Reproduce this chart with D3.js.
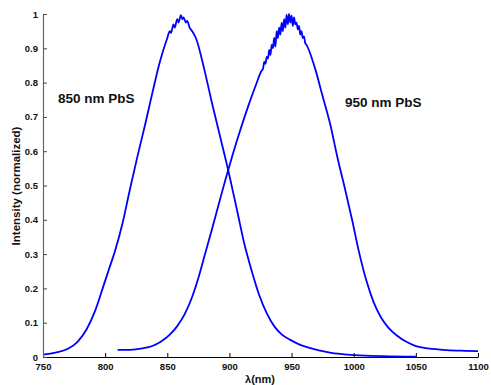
<!DOCTYPE html>
<html>
<head>
<meta charset="utf-8">
<script src="https://cdn.jsdelivr.net/npm/d3@7"></script>
<style>
  body { margin: 0; background: #fff; }
  text { font-family: Arial, "Liberation Sans", sans-serif; font-weight: bold; }
</style>
</head>
<body>
<script>
// wavelength (nm) / normalized intensity
var wl850 = [750, 760, 770, 778, 785, 792, 798, 803, 808, 814, 820, 826, 832, 838, 844, 850, 852, 853, 855, 856, 858, 859, 861, 862, 863, 865, 866, 868, 870, 873,
             880, 886, 892, 899, 906, 912, 918, 924, 930, 936, 942, 949, 956, 963, 972, 982, 995, 1010, 1030, 1050];
var int850 = [0.007, 0.013, 0.024, 0.045, 0.08, 0.135, 0.2, 0.255, 0.31, 0.39, 0.49, 0.585, 0.675, 0.77, 0.86, 0.93, 0.95, 0.945, 0.97, 0.96, 0.985, 0.975, 0.997, 0.985, 0.99, 0.975, 0.98, 0.96, 0.95, 0.93,
              0.835, 0.74, 0.65, 0.545, 0.43, 0.33, 0.25, 0.18, 0.128, 0.09, 0.066, 0.05, 0.037, 0.028, 0.019, 0.012, 0.007, 0.004, 0.002, 0.001];

var wl950 = [810, 820, 830, 838, 845, 852, 858, 864, 870, 875, 880, 885, 891, 897, 903, 909, 915, 921,
             926, 927, 928, 929, 930, 931, 932, 933, 934, 935, 936, 937, 938, 939, 940, 941, 942, 943, 944, 945, 946, 947, 948, 949, 950, 951, 952, 953, 954, 955, 956, 957, 958, 959, 960, 961, 962,
             969, 975, 981, 987, 993, 999, 1004, 1010, 1016, 1022, 1028, 1035, 1042, 1050, 1060, 1075, 1090, 1100];
var int950 = [0.021, 0.021, 0.025, 0.032, 0.045, 0.065, 0.09, 0.125, 0.175, 0.23, 0.295, 0.36, 0.44, 0.52, 0.595, 0.665, 0.73, 0.79,
              0.835, 0.84, 0.86, 0.855, 0.875, 0.87, 0.895, 0.88, 0.91, 0.9, 0.93, 0.905, 0.95, 0.93, 0.96, 0.94, 0.975, 0.95, 0.985, 0.96, 0.998, 0.97, 1.0, 0.975, 0.995, 0.965, 0.99, 0.97, 0.975, 0.955, 0.965, 0.94, 0.95, 0.93, 0.935, 0.915, 0.91,
              0.84, 0.76, 0.68, 0.58, 0.49, 0.395, 0.31, 0.225, 0.16, 0.115, 0.085, 0.062, 0.045, 0.032, 0.025, 0.02, 0.018, 0.017];

var xTicks = [750, 800, 850, 900, 950, 1000, 1050, 1100];
var yTicks = [0, 0.1, 0.2, 0.3, 0.4, 0.5, 0.6, 0.7, 0.8, 0.9, 1];

var width = 491, height = 385,
    margin = { top: 14, right: 13, bottom: 28, left: 43 };

var svg = d3.select("body").append("svg")
    .attr("width", width)
    .attr("height", height);

var x = d3.scaleLinear().domain([750, 1100]).range([margin.left, width - margin.right]);
var y = d3.scaleLinear().domain([0, 1]).range([height - margin.bottom, margin.top]);

// curves
var line = d3.line()
    .x(function(d) { return x(d[0]); })
    .y(function(d) { return y(d[1]); })
    .curve(d3.curveMonotoneX);

[d3.zip(wl850, int850), d3.zip(wl950, int950)].forEach(function(pts) {
  svg.append("path")
      .datum(pts)
      .attr("fill", "none")
      .attr("stroke", "#0000ff")
      .attr("stroke-width", 1.8)
      .attr("d", line);
});

// x axis, ticks pointing in
var gx = svg.append("g")
    .attr("transform", "translate(0," + (height - margin.bottom) + ")")
    .call(d3.axisBottom(x).tickValues(xTicks).tickSizeInner(-4).tickSizeOuter(0).tickPadding(6).tickFormat(d3.format("d")));
gx.select(".domain").attr("stroke", "#000").attr("stroke-width", 1.2);
gx.selectAll("line").attr("stroke", "#000");
gx.selectAll("text").attr("font-size", "9.5px").attr("fill", "#111").attr("font-family", "Arial, 'Liberation Sans', sans-serif");

// y axis
var gy = svg.append("g")
    .attr("transform", "translate(" + margin.left + ",0)")
    .call(d3.axisLeft(y).tickValues(yTicks).tickSizeInner(-4).tickSizeOuter(0).tickPadding(5).tickFormat(function(d) { return d === 0 || d === 1 ? d : d3.format(".1f")(d); }));
gy.select(".domain").attr("stroke", "#666").attr("stroke-width", 1.2);
gy.selectAll("line").attr("stroke", "#444");
gy.selectAll("text").attr("font-size", "9.5px").attr("fill", "#111").attr("font-family", "Arial, 'Liberation Sans', sans-serif");

// axis titles
svg.append("text")
    .attr("x", 260).attr("y", 383)
    .attr("text-anchor", "middle")
    .attr("font-size", "11px")
    .attr("fill", "#111")
    .text("λ(nm)");

svg.append("text")
    .attr("transform", "translate(20,186) rotate(-90)")
    .attr("text-anchor", "middle")
    .attr("font-size", "11.5px")
    .attr("fill", "#111")
    .text("Intensity (normalized)");

// series labels
svg.append("text")
    .attr("x", 58).attr("y", 103)
    .attr("font-size", "13.5px")
    .attr("fill", "#111")
    .text("850 nm PbS");

svg.append("text")
    .attr("x", 345).attr("y", 107)
    .attr("font-size", "13.5px")
    .attr("fill", "#111")
    .text("950 nm PbS");
</script>
</body>
</html>
